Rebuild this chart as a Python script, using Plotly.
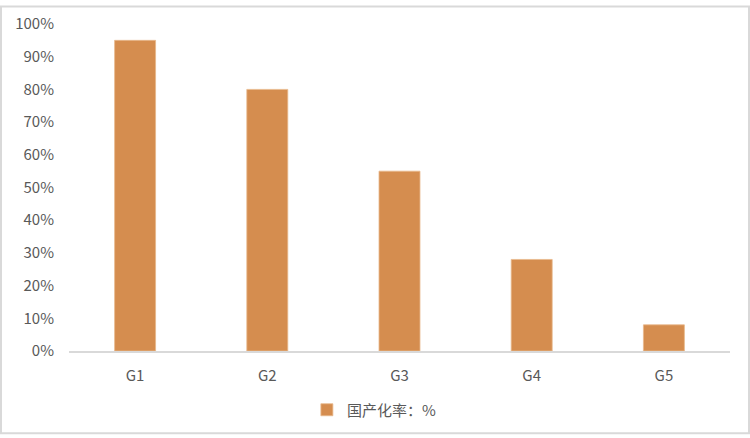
import plotly.graph_objects as go

categories = ["G1", "G2", "G3", "G4", "G5"]
values = [0.95, 0.80, 0.55, 0.28, 0.08]
series_name = "国产化率：%"
y_ticks = [0, 0.1, 0.2, 0.3, 0.4, 0.5, 0.6, 0.7, 0.8, 0.9, 1.0]

W, H = 750, 438
ml, mr, mt, mb = 69, 20, 19, 85
pw, ph = W - ml - mr, H - mt - mb

font = "Noto Sans CJK SC, Microsoft YaHei, sans-serif"

fig = go.Figure()
fig.add_trace(go.Bar(
    x=categories, y=values, name=series_name,
    marker=dict(color="#D58D4F", line=dict(color="#E9B98C", width=0.8)),
    width=0.31,
))
fig.update_layout(
    width=W, height=H,
    margin=dict(l=ml, r=mr, t=mt, b=mb),
    paper_bgcolor="white", plot_bgcolor="white",
    font=dict(family=font, size=15, color="#595959"),
    showlegend=True,
    legend=dict(orientation="h", x=0.462, xanchor="center", y=-0.13, yanchor="top",
                bgcolor="rgba(0,0,0,0)", font=dict(size=15, color="#595959")),
    xaxis=dict(showgrid=False, showline=True, linecolor="#D9D9D9", linewidth=1.5,
               ticks="", ticklabelstandoff=10, tickfont=dict(size=15, color="#595959")),
    yaxis=dict(range=[0, 1.0], tickvals=y_ticks, tickformat=".0%", showgrid=False,
               zeroline=False, showline=False, ticks="", ticklabelstandoff=14,
               tickfont=dict(size=15, color="#595959")),
    shapes=[dict(type="rect", xref="paper", yref="paper",
                 x0=-(ml - 1) / pw, x1=1 + (mr - 1) / pw,
                 y0=-(mb - 1) / ph, y1=1 + (mt - 1) / ph,
                 line=dict(color="#D9D9D9", width=2))],
)
fig.write_html("out.html", config={"displayModeBar": False},
               post_script="document.body.style.margin='0';document.body.style.overflow='hidden';")
